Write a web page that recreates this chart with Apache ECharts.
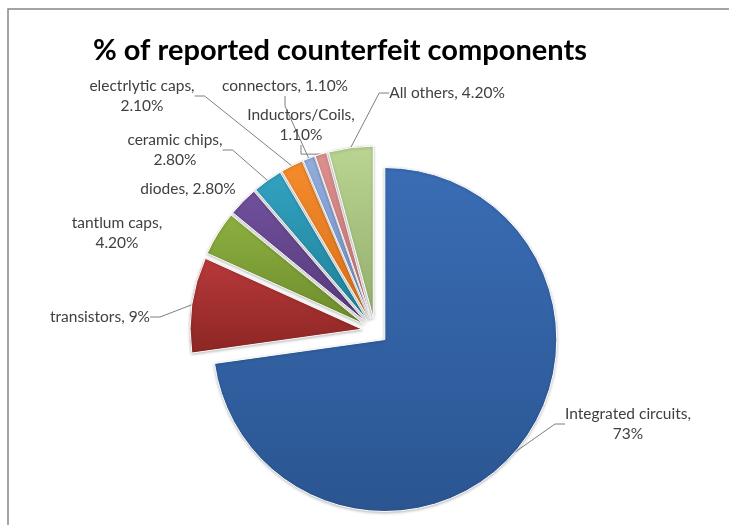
<!DOCTYPE html>
<html>
<head>
<meta charset="utf-8">
<script src="https://cdn.jsdelivr.net/npm/echarts@6/dist/echarts.min.js"></script>
<style>
html,body{margin:0;padding:0;background:#fff;}
#chart{width:729px;height:525px;}
</style>
</head>
<body>
<div id="chart"></div>
<script>
// ---- data ----
const categories = ['Integrated circuits', 'transistors', 'tantlum caps', 'diodes', 'ceramic chips', 'electrlytic caps', 'connectors', 'Inductors/Coils', 'All others'];
const values = [73, 9, 4.2, 2.8, 2.8, 2.1, 1.1, 1.1, 4.2];
const titleText = '% of reported counterfeit components';

// ---- layout / style (not data) ----
const wrapName = [true, false, true, false, true, true, false, true, false];
const showLine = [true, true, false, false, true, true, true, true, true];
const labelPos = [[628, 424], [100, 317], [117, 233], [188, 189], [175, 150], [142, 96], [285, 86], [301, 125], [447, 93]];
const colorStops = [
  ['#3A6DB5', '#2A5591'],
  ['#B8393A', '#8C2624'],
  ['#8DB040', '#6C8C2C'],
  ['#70509C', '#563A7A'],
  ['#32A2C0', '#1F8099'],
  ['#F58B2C', '#D8701A'],
  ['#93ACDC', '#7090C8'],
  ['#DC908E', '#C27472'],
  ['#BAD492', '#93AE6C']
];
const CX = 375, CY = 331, R = 172, EXPLODE = 13;

function fmt(v) { return Number.isInteger(v) ? v + '%' : v.toFixed(2) + '%'; }

const total = values.reduce((a, b) => a + b, 0);
let cum = 0;
const series = categories.map((c, k) => {
  // each slice drawn by its own pie series, exploded along its mid angle
  const mid = (cum + values[k] / 2) / total * 2 * Math.PI; // clockwise from top
  cum += values[k];
  const dx = Math.sin(mid) * EXPLODE, dy = -Math.cos(mid) * EXPLODE;
  return {
    type: 'pie',
    center: [CX + dx, CY + dy],
    radius: R,
    startAngle: 90,
    clockwise: true,
    avoidLabelOverlap: false,
    silent: true,
    emphasis: {disabled: true},
    data: categories.map((n, i) => ({
      name: n,
      value: values[i],
      itemStyle: i === k ? {
        color: new echarts.graphic.LinearGradient(0, 0, 0, 1, [
          {offset: 0, color: colorStops[i][0]},
          {offset: 1, color: colorStops[i][1]}
        ]),
        borderColor: '#fff', borderWidth: 1,
        shadowBlur: 3, shadowColor: 'rgba(0,0,0,0.25)', shadowOffsetX: 0, shadowOffsetY: 1
      } : {color: 'rgba(0,0,0,0)', borderWidth: 0},
      label: {show: i === k},
      labelLine: {show: i === k && showLine[i]}
    })),
    label: {
      position: 'outside',
      fontFamily: 'Lato',
      fontSize: 15.5,
      lineHeight: 20,
      color: '#404040',
      align: 'center',
      formatter: p => p.name + ',' + (wrapName[p.dataIndex] ? '\n' : ' ') + fmt(p.value)
    },
    labelLine: {length: 10, length2: 10, lineStyle: {color: '#7f7f7f', width: 1}},
    labelLayout: function (params) {
      const pos = labelPos[params.dataIndex];
      return {x: pos[0], y: pos[1], align: 'center', verticalAlign: 'middle'};
    }
  };
});

const chart = echarts.init(document.getElementById('chart'), null, {renderer: 'canvas'});
chart.setOption({
  animation: false,
  backgroundColor: '#fff',
  title: {
    text: titleText,
    left: 88, top: 31,
    textStyle: {fontFamily: 'Lato', fontWeight: 'bold', fontSize: 29, color: '#000'}
  },
  graphic: [{
    type: 'polyline',
    shape: {points: [[729, 9], [8, 9], [8, 525]]},
    style: {stroke: '#868686', lineWidth: 1.5, fill: null},
    silent: true
  }],
  series: series
});
</script>
</body>
</html>
